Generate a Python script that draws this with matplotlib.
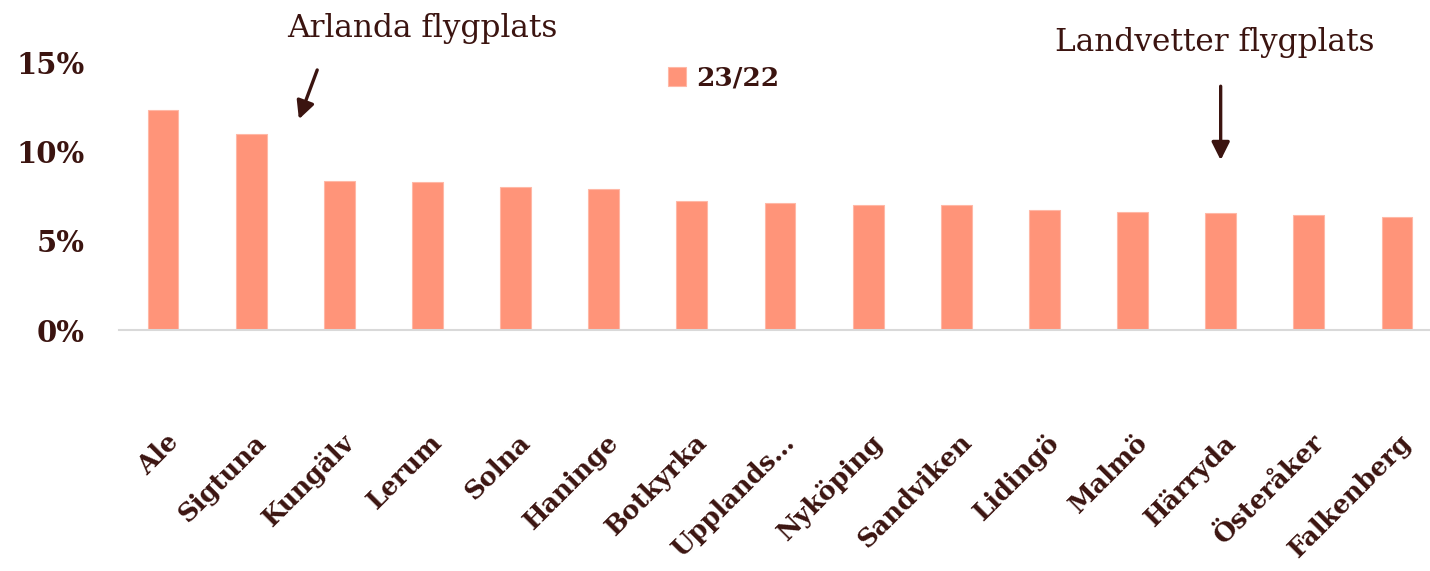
import matplotlib
matplotlib.use("Agg")
import matplotlib.pyplot as plt
import numpy as np

categories = ["Ale", "Sigtuna", "Kungälv", "Lerum", "Solna", "Haninge", "Botkyrka",
              "Upplands…", "Nyköping", "Sandviken", "Lidingö", "Malmö", "Härryda",
              "Österåker", "Falkenberg"]
values = [12.3, 10.95, 8.35, 8.27, 8.0, 7.9, 7.2, 7.1, 7.0, 6.97, 6.74, 6.6, 6.55, 6.46, 6.3]
series_name = "23/22"
yticks = [0, 5, 10, 15]
ytick_labels = ["0%", "5%", "10%", "15%"]

TEXT = "#3B1410"
BAR = "#FF9479"
FONT = "DejaVu Serif"

fig = plt.figure(figsize=(14.3, 5.71), dpi=100)
ax = fig.add_axes([119/1430, 1-330/571, (1441-119)/1430, (330-62)/571])

x = np.arange(len(categories))
ax.bar(x, values, width=0.35, color=BAR, edgecolor="#FFB8A6", linewidth=0.8, label=series_name, zorder=2)

ax.set_xlim(-0.5, len(categories) - 0.5)
ax.set_ylim(0, 15)
ax.set_yticks(yticks)
ax.set_yticklabels(ytick_labels, fontfamily=FONT, fontweight="bold", fontsize=21, color=TEXT)
ax.tick_params(axis="y", length=0, pad=25)
ax.set_xticks(x)
ax.set_xticklabels(categories, rotation=45, ha="right", va="center", rotation_mode="anchor",
                   fontfamily=FONT, fontweight="bold", fontsize=18.5, color=TEXT)
ax.tick_params(axis="x", length=0, pad=78)
for lab in ax.get_xticklabels():
    lab.set_transform(lab.get_transform() + matplotlib.transforms.ScaledTranslation(0.11, 0, fig.dpi_scale_trans))

for s in ["top", "right", "left"]:
    ax.spines[s].set_visible(False)
ax.spines["bottom"].set_color("#D9D9D9")
ax.spines["bottom"].set_linewidth(1.5)

leg = ax.legend(loc="upper left", bbox_to_anchor=(0.397, 1.075), frameon=False,
                prop={"family": FONT, "weight": "bold", "size": 19},
                handlelength=0.7, handleheight=0.7, handletextpad=0.4)
for t in leg.get_texts():
    t.set_color(TEXT)

ax.annotate("", xy=(1.53, 11.65), xytext=(1.76, 14.7),
            arrowprops=dict(arrowstyle="-|>", color=TEXT, lw=2.4, mutation_scale=27),
            annotation_clip=False)
ax.text(2.94, 16.9, "Arlanda flygplats", ha="center", va="center", fontfamily=FONT,
        fontsize=22.5, color=TEXT, clip_on=False)

ax.annotate("", xy=(12.0, 9.35), xytext=(12.0, 13.8),
            arrowprops=dict(arrowstyle="-|>", color=TEXT, lw=2.4, mutation_scale=27),
            annotation_clip=False)
ax.text(11.93, 16.1, "Landvetter flygplats", ha="center", va="center", fontfamily=FONT,
        fontsize=22.5, color=TEXT, clip_on=False)

fig.savefig("out.png", dpi=100)
